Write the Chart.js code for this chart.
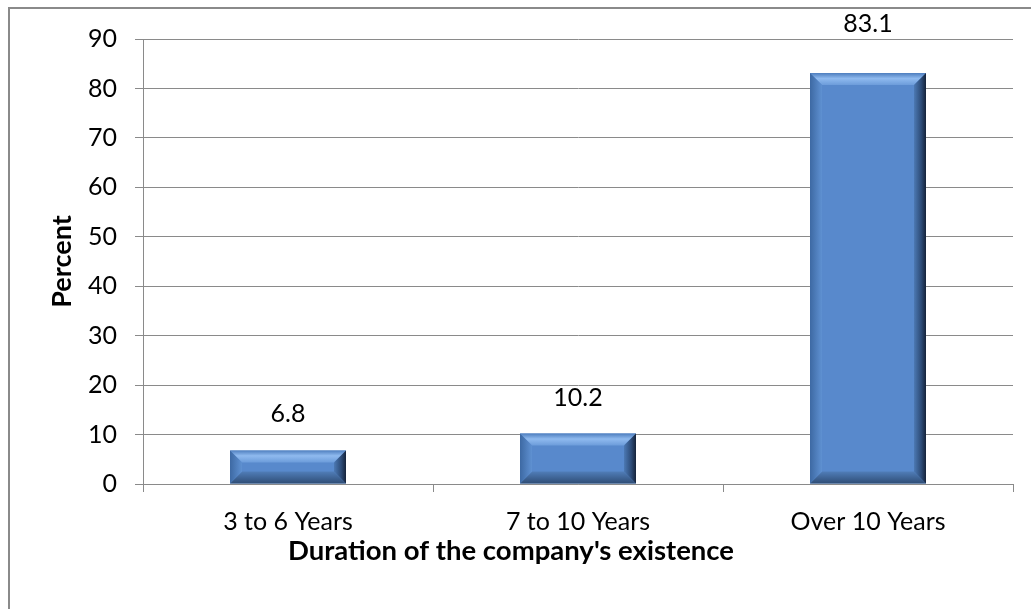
<!DOCTYPE html>
<html>
<head>
<meta charset="utf-8">
<script src="https://cdn.jsdelivr.net/npm/chart.js@4/dist/chart.umd.min.js"></script>
<style>
  html, body { margin: 0; padding: 0; background: #fff; }
  #wrap { width: 1031px; height: 609px; }
</style>
</head>
<body>
<div id="wrap"><canvas id="chart" width="1031" height="609"></canvas></div>
<script>
const categories = ['3 to 6 Years', '7 to 10 Years', 'Over 10 Years'];
const percents = [6.8, 10.2, 83.1];
const yTicks = [0, 10, 20, 30, 40, 50, 60, 70, 80, 90];
const xTitle = "Duration of the company's existence";
const yTitle = 'Percent';

const FONT = 'Lato, "Open Sans", sans-serif';
const GRID = '#8a8a8a';
const FACE = '#5889cc';
const FRAME_X = 9;

// outer frame (left and top edges only) and the x axis title,
// which sits centred between the frame and the right end of the plot
const framePlugin = {
    id: 'frame',
    beforeDraw(chart) {
        const ctx = chart.ctx;
        ctx.save();
        ctx.strokeStyle = GRID;
        ctx.lineWidth = 2;
        ctx.beginPath();
        ctx.moveTo(FRAME_X, chart.height);
        ctx.lineTo(FRAME_X, 8);
        ctx.lineTo(chart.width, 8);
        ctx.stroke();
        ctx.restore();
    },
    afterDraw(chart) {
        const ctx = chart.ctx;
        const xs = chart.scales.x;
        ctx.save();
        ctx.fillStyle = '#000';
        ctx.font = 'bold 27.5px ' + FONT;
        ctx.textAlign = 'center';
        ctx.textBaseline = 'middle';
        ctx.fillText(xTitle, (FRAME_X + chart.chartArea.right) / 2, xs.bottom - 58);
        ctx.restore();
    }
};

function fillQuad(ctx, pts, grad) {
    ctx.beginPath();
    ctx.moveTo(pts[0][0], pts[0][1]);
    for (let i = 1; i < pts.length; i++) ctx.lineTo(pts[i][0], pts[i][1]);
    ctx.closePath();
    ctx.fillStyle = grad;
    ctx.fill();
}

// bevelled edges on top of each bar plus the value labels
const bevelPlugin = {
    id: 'bevel',
    afterDatasetsDraw(chart) {
        const ctx = chart.ctx;
        const area = chart.chartArea;
        const meta = chart.getDatasetMeta(0);
        ctx.save();
        meta.data.forEach((bar, i) => {
            const p = bar.getProps(['x', 'y', 'base', 'width'], true);
            const x0 = p.x - p.width / 2, x1 = p.x + p.width / 2;
            const y0 = p.y, y1 = p.base;
            const b = Math.min(12, (y1 - y0) / 2.6);

            let g = ctx.createLinearGradient(0, y0, 0, y0 + b);
            g.addColorStop(0, '#4f7fbf');
            g.addColorStop(0.45, '#8fbaef');
            g.addColorStop(1, '#6c9cda');
            fillQuad(ctx, [[x0, y0], [x1, y0], [x1 - b, y0 + b], [x0 + b, y0 + b]], g);

            g = ctx.createLinearGradient(0, y1 - b, 0, y1);
            g.addColorStop(0, '#507db8');
            g.addColorStop(1, '#2f4d76');
            fillQuad(ctx, [[x0, y1], [x1, y1], [x1 - b, y1 - b], [x0 + b, y1 - b]], g);

            g = ctx.createLinearGradient(x0, 0, x0 + b, 0);
            g.addColorStop(0, '#3d69a3');
            g.addColorStop(1, '#5f91d2');
            fillQuad(ctx, [[x0, y0], [x0 + b, y0 + b], [x0 + b, y1 - b], [x0, y1]], g);

            g = ctx.createLinearGradient(x1 - b, 0, x1, 0);
            g.addColorStop(0, '#4c79b4');
            g.addColorStop(0.6, '#2d4c78');
            g.addColorStop(1, '#15233a');
            fillQuad(ctx, [[x1, y0], [x1, y1], [x1 - b, y1 - b], [x1 - b, y0 + b]], g);

            // value label above the bar; lifted over the top gridline if it would cross it
            let yb = y0 - 28;
            if (yb > area.top && yb - 20 < area.top) yb = area.top - 7;
            ctx.fillStyle = '#000';
            ctx.font = '25px ' + FONT;
            ctx.textAlign = 'center';
            ctx.textBaseline = 'alphabetic';
            ctx.fillText(String(percents[i]), p.x, yb);
        });
        ctx.restore();
    }
};

new Chart(document.getElementById('chart'), {
    type: 'bar',
    data: {
        labels: categories,
        datasets: [{
            data: percents,
            backgroundColor: FACE,
            borderWidth: 0,
            categoryPercentage: 1,
            barPercentage: 0.4
        }]
    },
    options: {
        responsive: false,
        animation: false,
        events: [],
        layout: { padding: { left: 0, top: 39, right: 18, bottom: 0 } },
        plugins: { legend: { display: false }, tooltip: { enabled: false } },
        scales: {
            x: {
                grid: { display: true, offset: true, drawOnChartArea: false, color: GRID, tickLength: 8, lineWidth: 1 },
                border: { color: GRID, width: 1 },
                ticks: { color: '#000', font: { family: FONT, size: 25 }, padding: 15, maxRotation: 0 },
                afterFit(scale) { scale.height = 125; }
            },
            y: {
                min: 0,
                max: 90,
                afterBuildTicks(scale) { scale.ticks = yTicks.map(v => ({ value: v })); },
                grid: { color: GRID, tickLength: 8, lineWidth: 1 },
                border: { color: GRID, width: 1 },
                ticks: { color: '#000', font: { family: FONT, size: 25 }, padding: 18 },
                title: {
                    display: true,
                    text: yTitle,
                    color: '#000',
                    font: { family: FONT, size: 27, weight: 'bold' },
                    padding: { top: 46, bottom: 0 }
                },
                afterFit(scale) { scale.width = 143; }
            }
        }
    },
    plugins: [framePlugin, bevelPlugin]
});
</script>
</body>
</html>
